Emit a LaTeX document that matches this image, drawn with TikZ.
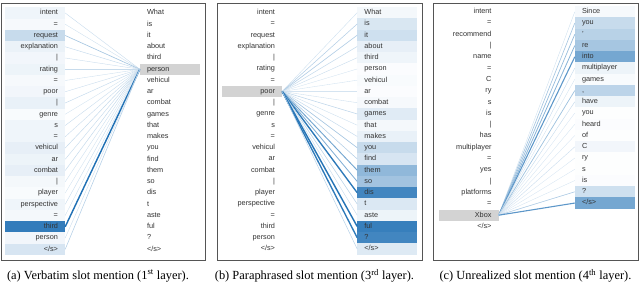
\documentclass[tikz,border=0pt]{standalone}
\usepackage{fontspec}
\setmainfont{Liberation Serif}
\setsansfont{Liberation Sans}
\definecolor{attn}{HTML}{2171B5}
\definecolor{qgray}{HTML}{D3D3D3}
\definecolor{tokc}{HTML}{333333}
\definecolor{framec}{HTML}{555555}
\newcommand\myeos{</s>}
\begin{document}
\begin{tikzpicture}[x=1pt,y=-1pt,
  tok/.style={font=\sffamily\fontsize{7.3}{7.3}\selectfont, text=tokc, minimum width=60pt,
    minimum height=11.25pt, inner sep=0pt, text width=46pt, text height=5.3pt, text depth=1.5pt},
  ltok/.style={tok, align=right},
  rtok/.style={tok, align=left},
  panel/.style={draw=framec, line width=0.8pt},
  captext/.style={font=\fontsize{12.4}{14}\selectfont, text=black, inner sep=0pt},
]
\useasboundingbox (0,0) rectangle (640,294);

% ---------------- panel (a) ----------------
\draw[panel] (1,3) rectangle (205,260);
\foreach \t/\p [count=\i] in {intent/7, =/4, request/25, explanation/9, |/6, rating/8, =/4, poor/6, |/10,
  genre/3, s/7, =/7, vehicul/11, ar/8, combat/11, |/5, player/3, perspective/7, =/5, third/92, person/6, {\myeos}/18}
  \node[ltok, fill=attn!\p!white] (a-l\i) at (35,{13+11.25*(\i-1)}) {\t};
\foreach \t [count=\i] in {What, is, it, about, third, person, vehicul, ar, combat, games, that, makes, you,
  find, them, so, dis, t, aste, ful, ?, \myeos}
  {\ifnum\i=6 \def\fc{qgray}\else\def\fc{white}\fi
   \node[rtok, fill=\fc] (a-r\i) at (170,{13+11.25*(\i-1)}) {\t};}
\foreach \p [count=\i] in {7,4,25,9,6,8,4,6,10,3,7,7,11,8,11,5,3,7,5,92,6,18}
  {\pgfmathtruncatemacro\q{min(100,18+0.9*\p)}
   \pgfmathsetmacro\w{0.35+0.012*\p}
   \draw[draw=attn!\q!white, line width=\w pt] (a-r6.west) -- (a-l\i.east);}

% ---------------- panel (b) ----------------
\draw[panel] (217,3) rectangle (422,260);
\foreach \t [count=\i] in {intent, =, request, explanation, |, rating, =, poor, |, genre, s, =, vehicul, ar,
  combat, |, player, perspective, =, third, person, \myeos}
  {\ifnum\i=8 \def\fc{qgray}\else\def\fc{white}\fi
   \node[ltok, fill=\fc] (b-l\i) at (252,{12.7+11.25*(\i-1)}) {\t};}
\foreach \t/\p [count=\i] in {What/5, is/17, it/22, about/11, third/7, person/2, vehicul/3, ar/2, combat/4,
  games/14, that/5, makes/10, you/25, find/18, them/50, so/42, dis/85, t/16, aste/8, ful/90, ?/85, {\myeos}/15}
  {\node[rtok, fill=attn!\p!white] (b-r\i) at (387.4,{12.7+11.25*(\i-1)}) {\t};
   \pgfmathtruncatemacro\q{min(100,18+0.9*\p)}
   \pgfmathsetmacro\w{0.35+0.012*\p}
   \draw[draw=attn!\q!white, line width=\w pt] (b-l8.east) -- (b-r\i.west);}

% ---------------- panel (c) ----------------
\draw[panel] (433,3) rectangle (638.5,260);
\foreach \t [count=\i] in {intent, =, recommend, |, name, =, C, ry, s, is, |, has, multiplayer, =, yes, |,
  platforms, =, Xbox, \myeos}
  {\ifnum\i=19 \def\fc{qgray}\else\def\fc{white}\fi
   \node[ltok, fill=\fc] (c-l\i) at (468.5,{11.8+11.3*(\i-1)}) {\t};}
\foreach \t/\p [count=\i] in {Since/4, you/25, '/32, re/40, into/62, multiplayer/8, games/3, {,}/30, have/8,
  you/1, heard/2, of/1, C/6, ry/1, s/1, is/2, ?/22, {\myeos}/62}
  {\node[rtok, fill=attn!\p!white] (c-r\i) at (605,{11.8+11.25*(\i-1)}) {\t};
   \pgfmathtruncatemacro\q{min(100,18+0.9*\p)}
   \pgfmathsetmacro\w{0.35+0.012*\p}
   \draw[draw=attn!\q!white, line width=\w pt] (c-l19.east) -- (c-r\i.west);}

% ---------------- captions ----------------
\node[captext] (capa) at (98,276) {(a) Verbatim slot mention (1\textsuperscript{st} layer).};
\node[captext] (capb) at (314.5,276) {(b) Paraphrased slot mention (3\textsuperscript{rd} layer).};
\node[captext] (capc) at (535.5,276) {(c) Unrealized slot mention (4\textsuperscript{th} layer).};
\end{tikzpicture}
\end{document}
